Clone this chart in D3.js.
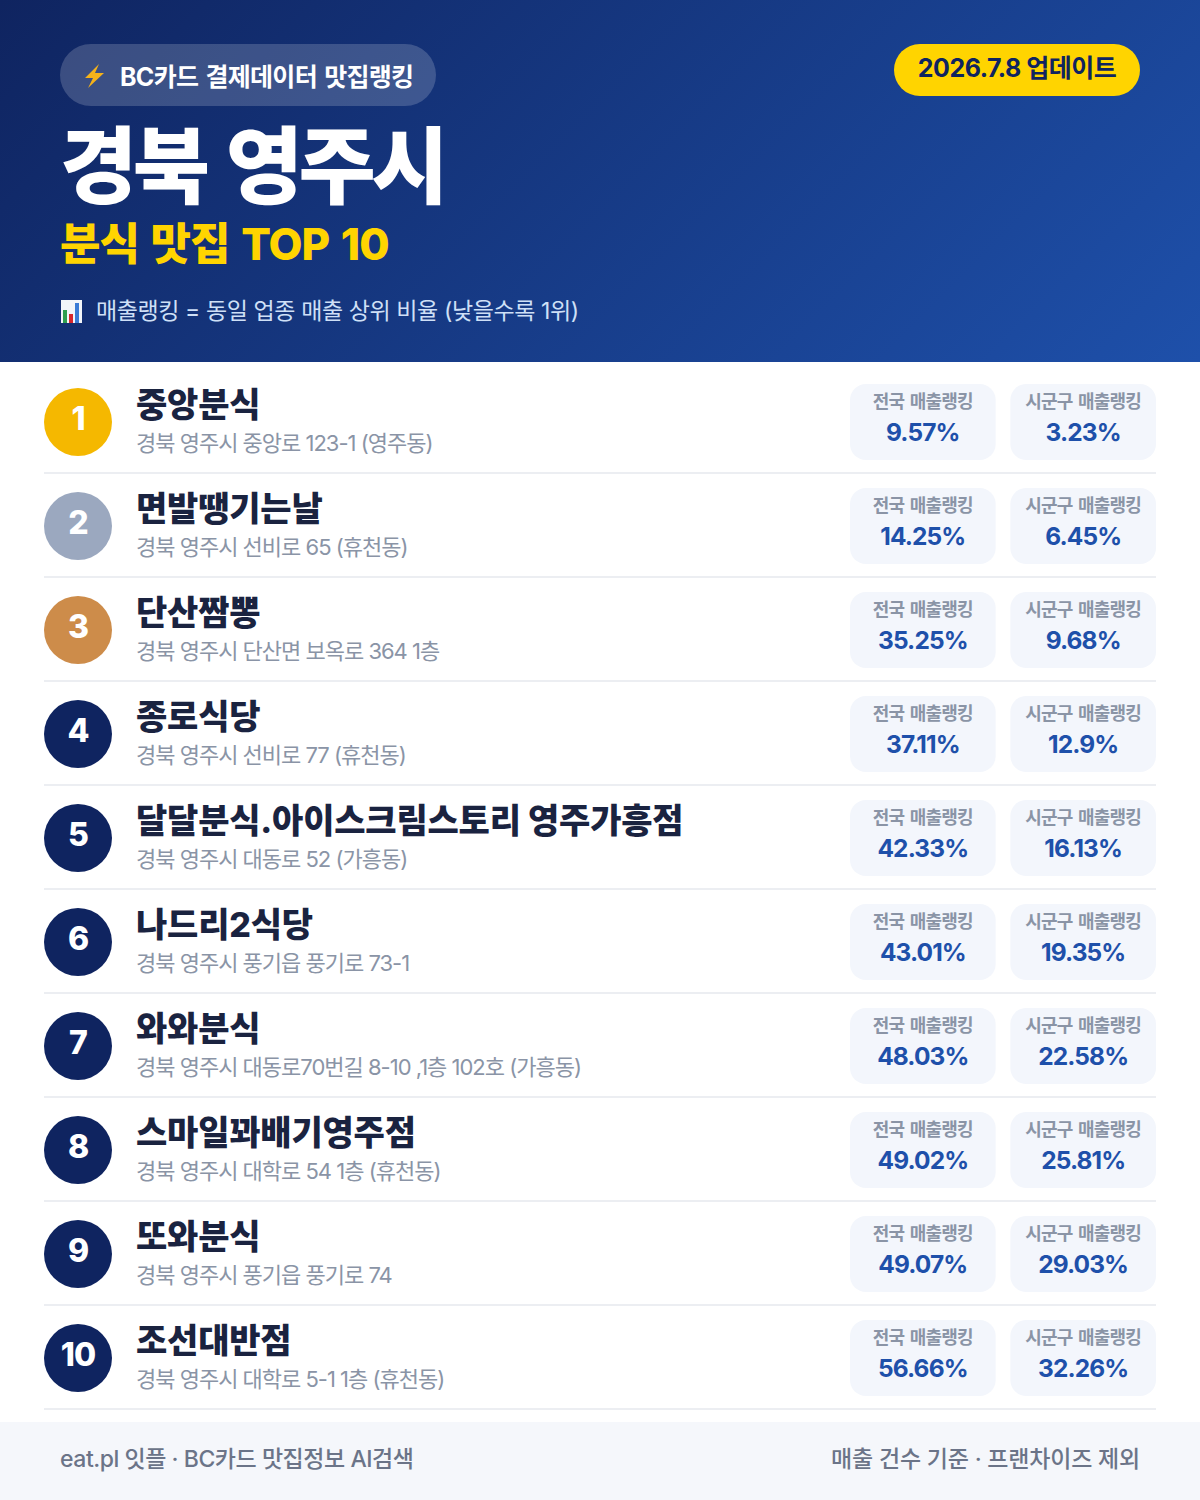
<!DOCTYPE html>
<html lang="ko">
<head>
<meta charset="utf-8">
<script src="https://cdn.jsdelivr.net/npm/d3@7/dist/d3.min.js"></script>
<style>
  html, body { margin: 0; padding: 0; background: #fff; }
  svg { display: block; }
  text { font-family: Inter, "Noto Sans CJK KR", sans-serif; }
</style>
</head>
<body>
<div id="chart"></div>
<script>
// Data
var ranks = [1, 2, 3, 4, 5, 6, 7, 8, 9, 10];
var names = ["중앙분식", "면발땡기는날", "단산짬뽕", "종로식당", "달달분식.아이스크림스토리 영주가흥점",
  "나드리2식당", "와와분식", "스마일꽈배기영주점", "또와분식", "조선대반점"];
var addresses = ["경북 영주시 중앙로 123-1 (영주동)", "경북 영주시 선비로 65 (휴천동)",
  "경북 영주시 단산면 보옥로 364 1층", "경북 영주시 선비로 77 (휴천동)", "경북 영주시 대동로 52 (가흥동)",
  "경북 영주시 풍기읍 풍기로 73-1", "경북 영주시 대동로70번길 8-10 ,1층 102호 (가흥동)",
  "경북 영주시 대학로 54 1층 (휴천동)", "경북 영주시 풍기읍 풍기로 74", "경북 영주시 대학로 5-1 1층 (휴천동)"];
var nationalPct = ["9.57%", "14.25%", "35.25%", "37.11%", "42.33%", "43.01%", "48.03%", "49.02%", "49.07%", "56.66%"];
var districtPct = ["3.23%", "6.45%", "9.68%", "12.9%", "16.13%", "19.35%", "22.58%", "25.81%", "29.03%", "32.26%"];
var cardLabels = ["전국 매출랭킹", "시군구 매출랭킹"];

var width = 1200, height = 1500;
var navy = "#0f2460", blue = "#1e50aa", gold = "#ffd400";

var svg = d3.select("#chart").append("svg")
  .attr("width", width)
  .attr("height", height);

// Header background
var grad = svg.append("defs").append("linearGradient")
  .attr("id", "head-grad")
  .attr("gradientUnits", "userSpaceOnUse")
  .attr("x1", 210).attr("y1", -210)
  .attr("x2", 990).attr("y2", 570);
grad.append("stop").attr("offset", 0).attr("stop-color", navy);
grad.append("stop").attr("offset", 1).attr("stop-color", blue);

svg.append("rect").attr("width", width).attr("height", 362).attr("fill", "url(#head-grad)");

// Header pill
svg.append("rect").attr("x", 60).attr("y", 44).attr("width", 376).attr("height", 62).attr("rx", 31)
  .attr("fill", "#fff").attr("fill-opacity", 0.18);
svg.append("path")
  .attr("d", "M99 64 L85 78 L93 78 L88 88 L104 73 L95 73 Z")
  .attr("fill", "#f5b21a");
svg.append("text").attr("x", 120).attr("y", 86)
  .attr("font-size", 25).attr("font-weight", 700).attr("letter-spacing", -0.7).attr("word-spacing", 2).attr("fill", "#fff")
  .text("BC카드 결제데이터 맛집랭킹");

// Update badge
svg.append("rect").attr("x", 894).attr("y", 44).attr("width", 246).attr("height", 52).attr("rx", 26)
  .attr("fill", gold);
svg.append("text").attr("x", 1017).attr("y", 77).attr("text-anchor", "middle")
  .attr("font-size", 25).attr("font-weight", 700).attr("letter-spacing", -0.5).attr("fill", navy)
  .text("2026.7.8 업데이트");

// Titles
svg.append("text").attr("x", 60).attr("y", 197)
  .attr("font-size", 84).attr("font-weight", 900).attr("letter-spacing", -4.5).attr("word-spacing", 8).attr("fill", "#fff")
  .text("경북 영주시");
svg.append("text").attr("x", 60).attr("y", 260)
  .attr("font-size", 44).attr("font-weight", 800).attr("letter-spacing", -1).attr("word-spacing", 3).attr("fill", gold)
  .text("분식 맛집 TOP 10");

// Chart icon + note
var icon = svg.append("g");
icon.append("rect").attr("x", 61).attr("y", 300).attr("width", 21).attr("height", 23).attr("fill", "#f2f5f9");
icon.append("rect").attr("x", 63).attr("y", 310).attr("width", 4).attr("height", 13).attr("fill", "#2e9e4f");
icon.append("rect").attr("x", 69).attr("y", 314).attr("width", 4).attr("height", 9).attr("fill", "#d8262c");
icon.append("rect").attr("x", 75).attr("y", 303).attr("width", 4).attr("height", 20).attr("fill", "#3a7bd5");
svg.append("text").attr("x", 96).attr("y", 319)
  .attr("font-size", 23).attr("font-weight", 400).attr("letter-spacing", -0.4).attr("fill", "#cfe0f7")
  .text("매출랭킹 = 동일 업종 매출 상위 비율 (낮을수록 1위)");

// Rows
var y = d3.scaleBand().domain(ranks).range([370, 1410]);
var badgeColor = d3.scaleOrdinal().domain([1, 2, 3]).range(["#f5b800", "#9ba8bf", "#cd8c4a"]).unknown(navy);

var rows = svg.append("g").selectAll("g")
  .data(ranks)
  .enter().append("g")
  .attr("transform", d => `translate(0,${y(d)})`);

rows.append("rect")
  .attr("x", 44).attr("y", y.bandwidth() - 2)
  .attr("width", 1112).attr("height", 2)
  .attr("fill", "#eceef2");

rows.append("circle")
  .attr("cx", 78).attr("cy", 52).attr("r", 34)
  .attr("fill", d => badgeColor(d));
rows.append("text")
  .attr("x", 78).attr("y", 60).attr("text-anchor", "middle")
  .attr("font-size", 32).attr("font-weight", 800).attr("letter-spacing", -1).attr("fill", "#fff")
  .text(d => d);

rows.append("text")
  .attr("x", 136).attr("y", 47)
  .attr("font-size", 34).attr("font-weight", 800).attr("letter-spacing", -0.2).attr("fill", "#1a2340")
  .text((d, i) => names[i]);
rows.append("text")
  .attr("x", 136).attr("y", 81)
  .attr("font-size", 22).attr("font-weight", 400).attr("letter-spacing", -1).attr("fill", "#8a94a6")
  .text((d, i) => addresses[i]);

// Ranking cards
var cardX = d3.scaleBand().domain(cardLabels).range([850, 1156]).paddingInner(14 / 153);
var cardValues = [nationalPct, districtPct];

cardLabels.forEach(function(label, c) {
  var card = rows.append("g").attr("transform", `translate(${cardX(label)},14)`);
  card.append("rect")
    .attr("width", cardX.bandwidth()).attr("height", 76).attr("rx", 16)
    .attr("fill", "#f3f6fc");
  card.append("text")
    .attr("x", cardX.bandwidth() / 2).attr("y", 24).attr("text-anchor", "middle")
    .attr("font-size", 18).attr("font-weight", 700).attr("letter-spacing", -0.8).attr("word-spacing", 2).attr("fill", "#8a94a6")
    .text(label);
  card.append("text")
    .attr("x", cardX.bandwidth() / 2).attr("y", 57).attr("text-anchor", "middle")
    .attr("font-size", 24.5).attr("font-weight", 700).attr("letter-spacing", -0.9).attr("fill", blue)
    .text((d, i) => cardValues[c][i]);
});

// Footer
svg.append("rect").attr("y", 1422).attr("width", width).attr("height", 78).attr("fill", "#f5f7fb");
svg.append("text").attr("x", 60).attr("y", 1467)
  .attr("font-size", 23).attr("font-weight", 500).attr("letter-spacing", -0.46).attr("fill", "#6b7488")
  .text("eat.pl 잇플 · BC카드 맛집정보 AI검색");
svg.append("text").attr("x", 1140).attr("y", 1467).attr("text-anchor", "end")
  .attr("font-size", 23).attr("font-weight", 500).attr("letter-spacing", -0.2).attr("fill", "#6b7488")
  .text("매출 건수 기준 · 프랜차이즈 제외");
</script>
</body>
</html>
